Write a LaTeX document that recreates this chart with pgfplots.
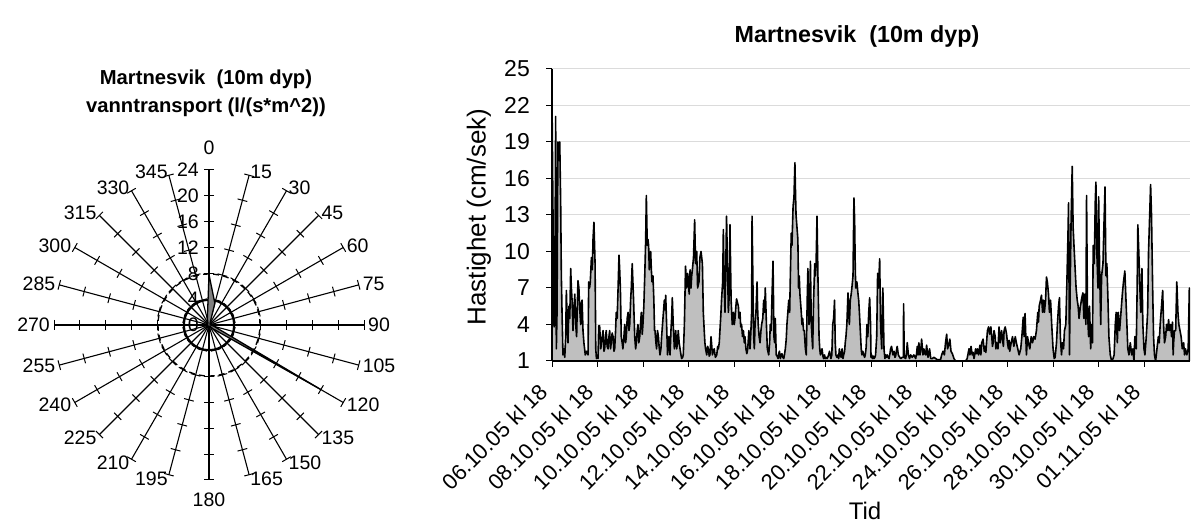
\documentclass[border=0pt]{standalone}
\usepackage{pgfplots}
\pgfplotsset{compat=1.18}
\usepackage{pgfplotstable}
\usepgfplotslibrary{polar}
\usepackage{fontspec}
\setmainfont{Liberation Sans}

% current speed, 10 m depth (time in days from 06.10.05 kl 18)
\pgfplotstableread{
t v
0.00 22.4
0.04 13.7
0.09 3.8
0.12 4.2
0.16 21.1
0.19 2.0
0.22 5.0
0.26 19.0
0.30 17.5
0.34 19.0
0.38 14.0
0.41 8.0
0.44 5.0
0.48 1.5
0.52 2.0
0.56 1.3
0.60 3.0
0.63 6.8
0.67 4.0
0.70 2.5
0.74 5.5
0.78 4.5
0.82 8.6
0.85 7.0
0.88 6.0
0.92 3.5
0.95 5.0
1.00 6.5
1.04 4.0
1.08 3.0
1.11 5.5
1.14 7.6
1.18 7.0
1.21 5.5
1.26 4.0
1.29 5.8
1.32 6.0
1.36 3.5
1.40 2.5
1.46 1.5
1.52 1.8
1.58 1.5
1.61 7.5
1.65 7.0
1.68 7.5
1.73 9.5
1.77 8.5
1.80 11.0
1.84 12.4
1.89 9.0
1.92 2.0
1.95 1.2
2.00 1.5
2.02 1.2
2.05 3.9
2.09 3.9
2.14 2.0
2.19 2.8
2.24 3.5
2.28 1.8
2.31 2.0
2.35 3.0
2.38 3.5
2.42 2.2
2.46 2.0
2.50 3.0
2.53 3.5
2.57 2.0
2.60 2.5
2.64 3.3
2.68 3.0
2.72 1.8
2.75 2.0
2.79 3.5
2.82 5.0
2.86 4.5
2.90 7.0
2.94 9.7
2.97 8.5
3.00 7.0
3.04 3.0
3.08 2.5
3.11 2.0
3.15 2.8
3.19 4.0
3.23 2.5
3.26 3.0
3.30 4.5
3.34 5.0
3.38 3.5
3.41 4.0
3.45 6.0
3.48 7.0
3.52 9.0
3.55 7.5
3.58 6.0
3.63 3.0
3.67 2.0
3.70 2.5
3.74 3.5
3.77 4.0
3.81 2.5
3.85 3.0
3.89 4.2
3.92 5.0
3.96 3.2
3.99 4.0
4.03 5.5
4.07 8.0
4.11 10.9
4.14 14.6
4.18 10.5
4.21 11.0
4.24 10.5
4.27 8.5
4.29 9.0
4.33 10.0
4.36 8.5
4.39 7.5
4.43 8.0
4.47 6.0
4.50 3.5
4.52 3.5
4.56 2.5
4.59 2.0
4.63 3.5
4.67 3.0
4.70 2.2
4.74 1.5
4.78 2.0
4.81 3.0
4.85 4.0
4.89 5.0
4.93 6.0
4.96 5.2
4.99 6.4
5.03 4.0
5.07 1.5
5.10 2.2
5.13 3.0
5.18 1.5
5.22 3.5
5.25 4.5
5.28 6.2
5.32 4.0
5.37 2.0
5.40 2.8
5.43 3.5
5.47 2.0
5.51 2.5
5.54 3.5
5.58 2.5
5.62 2.0
5.66 1.5
5.69 1.2
5.73 1.3
5.76 1.5
5.81 4.0
5.86 8.8
5.91 7.0
5.95 8.2
5.98 7.8
6.02 6.5
6.06 8.5
6.10 7.0
6.13 8.0
6.16 8.5
6.21 9.5
6.26 12.6
6.30 9.0
6.35 10.0
6.39 7.0
6.45 7.5
6.49 9.5
6.54 10.0
6.57 9.5
6.60 9.0
6.64 5.0
6.68 3.5
6.71 2.5
6.74 2.0
6.79 1.5
6.83 2.2
6.86 2.0
6.90 1.4
6.93 1.5
6.98 3.0
7.04 1.5
7.08 1.8
7.12 2.0
7.17 1.3
7.23 1.5
7.27 2.2
7.30 2.0
7.34 2.5
7.37 3.5
7.41 4.8
7.44 6.0
7.49 7.5
7.52 11.8
7.56 7.0
7.59 5.0
7.62 8.0
7.66 12.9
7.71 8.0
7.74 5.0
7.78 6.5
7.81 12.2
7.86 6.0
7.91 4.0
7.96 5.0
8.00 4.0
8.03 4.5
8.07 5.5
8.10 6.1
8.14 5.8
8.18 5.5
8.21 4.5
8.25 5.0
8.28 3.8
8.32 4.0
8.36 3.0
8.40 3.5
8.44 2.5
8.47 3.0
8.51 2.0
8.55 1.6
8.59 2.0
8.64 3.5
8.69 2.0
8.73 3.5
8.76 5.0
8.78 12.9
8.82 7.0
8.85 3.0
8.88 2.0
8.91 4.0
8.95 5.0
9.00 7.5
9.02 5.5
9.05 4.0
9.09 3.0
9.13 2.5
9.17 3.5
9.20 4.0
9.25 4.5
9.29 6.0
9.33 5.0
9.36 7.0
9.41 4.0
9.45 2.0
9.51 1.5
9.55 2.5
9.58 4.0
9.62 3.5
9.65 6.0
9.70 9.2
9.74 3.0
9.77 2.5
9.80 4.5
9.84 1.5
9.88 1.4
9.92 1.2
9.95 1.6
9.98 1.8
10.02 1.2
10.06 1.5
10.09 1.6
10.13 1.3
10.17 1.2
10.20 1.5
10.24 2.0
10.28 2.8
10.31 4.0
10.35 5.0
10.39 6.0
10.43 5.0
10.46 8.0
10.50 11.5
10.53 10.5
10.58 13.7
10.62 14.5
10.66 17.3
10.69 14.5
10.71 13.0
10.75 12.0
10.79 11.0
10.82 7.0
10.85 8.0
10.88 6.5
10.90 6.0
10.94 5.0
10.97 4.0
11.00 4.5
11.04 3.5
11.07 3.5
11.12 2.0
11.16 1.5
11.20 6.0
11.23 8.6
11.28 4.0
11.31 5.0
11.34 9.2
11.38 4.0
11.44 2.0
11.48 6.0
11.53 9.0
11.56 8.0
11.59 9.0
11.63 12.9
11.67 8.0
11.72 3.0
11.75 2.0
11.78 1.5
11.82 1.8
11.85 2.0
11.89 1.4
11.92 1.2
11.96 1.5
11.99 1.2
12.03 1.3
12.07 1.2
12.10 1.3
12.14 1.5
12.18 1.8
12.24 1.2
12.28 1.5
12.32 4.0
12.36 4.5
12.40 6.0
12.43 2.5
12.46 1.5
12.50 1.3
12.55 1.5
12.58 1.2
12.61 2.0
12.65 1.5
12.69 1.3
12.73 2.0
12.77 1.2
12.80 1.5
12.84 1.8
12.87 2.5
12.90 3.0
12.94 4.0
12.99 6.6
13.02 5.0
13.05 4.0
13.09 6.0
13.13 6.5
13.16 7.0
13.21 8.0
13.25 14.4
13.28 12.7
13.31 8.5
13.33 7.0
13.38 7.5
13.43 6.5
13.46 6.0
13.49 5.0
13.53 3.5
13.57 2.0
13.60 1.5
13.64 1.8
13.68 1.5
13.72 1.3
13.75 1.5
13.79 2.2
13.82 4.0
13.86 3.0
13.90 5.0
13.94 6.2
13.98 4.0
14.00 1.3
14.03 1.5
14.06 1.2
14.10 1.4
14.13 1.2
14.17 1.3
14.20 1.5
14.25 3.0
14.29 8.2
14.33 7.0
14.38 9.4
14.42 4.0
14.47 2.0
14.52 7.0
14.57 2.0
14.61 1.2
14.64 1.5
14.67 1.3
14.71 1.5
14.75 1.3
14.79 1.2
14.83 1.6
14.86 2.0
14.90 2.2
14.96 1.5
15.01 1.8
15.05 1.3
15.08 1.4
15.12 1.9
15.15 2.2
15.20 1.5
15.26 1.3
15.31 1.2
15.37 1.3
15.42 1.3
15.43 5.7
15.46 1.3
15.52 1.2
15.56 1.6
15.59 2.5
15.64 1.5
15.69 1.2
15.74 1.5
15.81 1.3
15.88 1.5
15.96 1.2
16.00 1.6
16.03 2.2
16.07 1.5
16.10 2.5
16.15 1.5
16.19 2.0
16.22 2.8
16.28 1.5
16.32 2.0
16.36 1.6
16.40 1.5
16.44 2.3
16.50 1.3
16.54 1.6
16.57 2.0
16.62 1.2
16.69 1.2
16.76 1.3
16.84 1.2
16.91 1.1
16.98 1.1
17.05 1.1
17.10 1.5
17.16 1.8
17.22 1.5
17.27 2.5
17.32 3.2
17.36 2.0
17.42 2.4
17.46 2.8
17.51 1.8
17.57 1.6
17.64 1.2
17.71 1.0
18.15 1.0
18.22 1.2
18.26 1.6
18.30 2.0
18.34 1.5
18.39 2.2
18.44 1.5
18.48 1.7
18.52 1.2
18.56 1.6
18.59 2.0
18.63 1.6
18.67 2.0
18.72 1.5
18.78 2.3
18.82 1.5
18.86 2.5
18.92 2.8
18.97 1.8
19.01 2.2
19.04 1.7
19.07 2.5
19.11 3.5
19.16 3.8
19.21 3.2
19.26 3.8
19.30 3.0
19.33 2.2
19.36 2.5
19.40 3.5
19.45 3.0
19.48 2.0
19.51 2.5
19.57 2.0
19.62 3.8
19.67 2.5
19.73 3.5
19.77 2.8
19.81 2.2
19.84 3.5
19.89 3.8
19.95 3.2
19.99 2.5
20.03 2.0
20.06 2.7
20.09 1.8
20.15 2.5
20.21 3.0
20.27 2.2
20.30 2.6
20.33 3.0
20.38 2.5
20.44 2.0
20.50 1.5
20.57 2.0
20.62 3.0
20.68 4.6
20.72 3.0
20.76 4.9
20.82 1.5
20.87 3.0
20.91 2.5
20.97 2.0
21.03 3.0
21.09 2.5
21.14 3.0
21.20 2.8
21.26 3.5
21.32 5.0
21.35 4.2
21.38 5.5
21.44 6.0
21.48 6.4
21.53 5.0
21.57 6.0
21.61 5.0
21.66 6.0
21.70 7.9
21.74 7.5
21.79 6.5
21.83 5.0
21.88 6.0
21.93 4.0
21.99 2.0
22.04 1.2
22.08 1.3
22.14 2.5
22.18 4.0
22.23 5.5
22.27 6.2
22.31 3.0
22.36 1.5
22.40 2.5
22.45 2.0
22.49 3.5
22.55 4.0
22.59 7.0
22.64 11.0
22.67 14.0
22.71 1.5
22.74 7.0
22.78 12.5
22.83 17.0
22.87 12.0
22.91 10.4
22.96 8.5
23.00 7.0
23.05 6.0
23.09 5.5
23.13 4.5
23.19 5.5
23.25 6.2
23.30 6.6
23.34 4.5
23.39 6.5
23.43 4.0
23.46 14.6
23.50 5.0
23.55 3.0
23.59 5.5
23.64 2.0
23.68 4.0
23.72 2.5
23.75 10.5
23.80 9.0
23.84 14.0
23.87 15.7
23.91 10.0
23.96 7.0
23.99 14.5
24.03 9.0
24.08 4.0
24.12 8.0
24.18 9.0
24.22 12.0
24.27 15.3
24.31 8.0
24.35 9.0
24.40 6.0
24.44 3.0
24.50 1.5
24.56 1.0
24.62 1.2
24.67 1.5
24.72 4.0
24.76 5.0
24.81 2.5
24.85 5.0
24.91 3.5
24.97 5.0
25.03 6.5
25.08 7.5
25.14 8.4
25.19 6.0
25.23 4.0
25.27 2.0
25.32 1.5
25.38 2.5
25.44 1.5
25.49 2.0
25.54 1.0
25.58 3.0
25.64 2.0
25.68 7.0
25.71 12.2
25.76 9.5
25.80 7.0
25.84 5.0
25.89 8.6
25.93 4.0
25.98 2.0
26.02 1.5
26.08 3.0
26.14 5.0
26.18 10.0
26.23 13.0
26.27 15.5
26.31 13.0
26.36 7.0
26.40 3.0
26.44 1.5
26.49 1.0
26.55 2.0
26.61 3.0
26.65 2.5
26.69 4.0
26.75 5.5
26.80 6.8
26.84 4.0
26.88 2.5
26.93 3.0
26.97 4.0
27.02 3.5
27.06 4.4
27.10 3.5
27.15 4.0
27.19 3.0
27.23 4.2
27.26 1.5
27.28 2.5
27.32 3.5
27.37 3.5
27.42 7.5
27.47 5.0
27.51 4.0
27.56 3.5
27.61 3.0
27.66 2.0
27.72 2.5
27.76 1.5
27.80 2.0
27.86 1.5
27.92 2.0
27.97 7.0
}\speed

% water transport by direction (degrees from north, clockwise)
\pgfplotstableread{
dir val
0 7.8
15 3.5
30 0.3
45 0.2
60 0.2
75 0.2
90 0.3
105 0.8
120 20.0
135 0.8
150 0.2
165 0.2
180 0.2
195 0.2
210 0.2
225 0.2
240 0.2
255 0.2
270 0.2
285 0.2
300 0.2
315 0.3
330 0.3
345 1.0
0 7.8
}\transport

\newcommand\lbl{\fontsize{19.5bp}{23bp}\selectfont}
\newcommand\tlbl{\fontsize{22bp}{26bp}\selectfont}

\begin{document}
\begin{tikzpicture}
\begin{scope}[x=1bp,y=1bp]
\useasboundingbox (0,0) rectangle (1192,524);

% ---------- rose diagram ----------
\node[font=\bfseries\fontsize{20.2bp}{24bp}\selectfont, align=center] at (206,431)
  {Martnesvik\ \ (10m dyp)\\[4bp]vanntransport (l/(s*m\^{}2))};

\begin{scope}[shift={(209,199)}]
  \draw[line width=1.8bp] (0,0) circle[radius=25];
  \draw[line width=1.3bp, dash pattern=on 6bp off 4bp] (0,0) circle[radius=51];
  \foreach \a in {0,15,...,345}{
    \draw[line width=1.1bp] (0,0) -- ({90-\a}:155);
    \foreach \r in {25.83,51.67,77.5,103.33,129.17,155}{
      \draw[line width=1.0bp, shift={({90-\a}:\r)}, rotate={90-\a}] (0,-5) -- (0,5);
    }
  }
  \foreach \a in {15,30,...,165}{
    \node[font=\lbl, anchor=west, inner sep=0pt] at ({90-\a}:159) {\a};
  }
  \foreach \a in {195,210,...,345}{
    \node[font=\lbl, anchor=east, inner sep=0pt] at ({90-\a}:159) {\a};
  }
  \node[font=\lbl, anchor=south, inner sep=0pt] at (0,170) {0};
  \node[font=\lbl, anchor=north, inner sep=0pt] at (0,-168) {180};
  \foreach \v [count=\i from 0] in {0,4,8,12,16,20,24}{
    \node[font=\lbl, anchor=east, inner sep=0pt] at (-10,{\i*25.83}) {\v};
  }
\end{scope}

\node[font=\bfseries\fontsize{23.3bp}{28bp}\selectfont] at (857,488) {Martnesvik\ \ (10m dyp)};
\node[font=\fontsize{26bp}{30bp}\selectfont, rotate=90] at (479,307) {Hastighet (cm/sek)};
\node[font=\fontsize{24bp}{28bp}\selectfont] at (865,13) {Tid};
\end{scope}

\begin{polaraxis}[
  at={(209bp,199bp)}, anchor=center,
  scale only axis, width=310bp, height=310bp,
  ymin=0, ymax=24, hide axis, clip=false]
  \addplot[draw=black, fill=gray, line width=1.3bp, line join=round]
    table[x expr={mod(450-\thisrow{dir},360)}, y=val] {\transport};
\end{polaraxis}

% ---------- speed time series ----------
\begin{axis}[
  at={(552bp,163bp)}, anchor=south west,
  scale only axis, width=638bp, height=292bp,
  xmin=0, xmax=28, ymin=1, ymax=25,
  axis x line*=bottom, axis y line*=left,
  axis line style={line width=1.2bp},
  ytick={1,4,...,25},
  xtick={0,2,...,26},
  xticklabels={06.10.05 kl 18,08.10.05 kl 18,10.10.05 kl 18,12.10.05 kl 18,
    14.10.05 kl 18,16.10.05 kl 18,18.10.05 kl 18,20.10.05 kl 18,
    22.10.05 kl 18,24.10.05 kl 18,26.10.05 kl 18,28.10.05 kl 18,
    30.10.05 kl 18,01.11.05 kl 18},
  tick align=outside, major tick length=6bp,
  tick style={black, line width=1bp},
  ymajorgrids, grid style={black!14, line width=1bp},
  /pgf/number format/assume math mode=true,
  yticklabel style={font=\fontsize{23bp}{27bp}\selectfont, inner sep=0pt, xshift=-16bp},
  xticklabel style={font=\tlbl, inner sep=0pt, xshift=-14bp, yshift=-15bp,
    rotate=45, anchor=north east},
  clip=true]
  \addplot[draw=black, fill=black!25, line width=1.6bp, line join=round]
    table[x=t, y=v] {\speed} \closedcycle;
\end{axis}
\end{tikzpicture}
\end{document}
